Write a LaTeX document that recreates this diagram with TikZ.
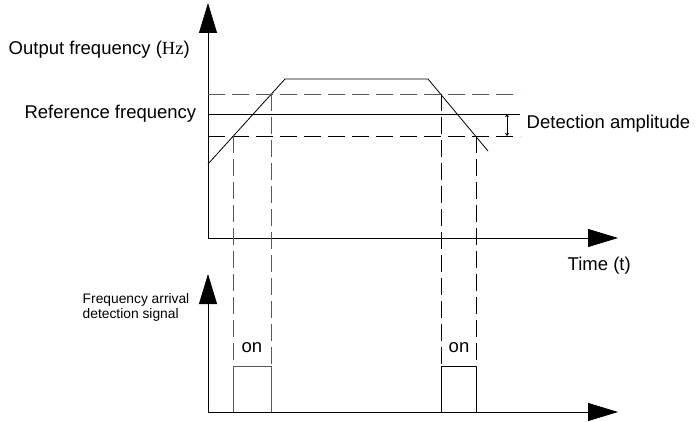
\documentclass[tikz,border=0pt]{standalone}
\usepackage{fontspec}
\setmainfont{Liberation Sans}
\newfontfamily\hzfont{Liberation Serif}
\usetikzlibrary{arrows.meta}
\begin{document}
\begin{tikzpicture}[x=1pt,y=-1pt,line width=0.8pt,line join=round,>={Triangle[length=30pt,width=18pt]},font=\fontsize{18.5}{21}\selectfont]
	\useasboundingbox (0,0) rectangle (696,422);
	% upper graph
	\draw [->] (208,238) -- (208,3);
	\draw [->] (208,238) -- (618,238);
	\node [anchor=west] (fout) at (5,50) {Output frequency ({\hzfont Hz})};
	\node [anchor=east] (fref) at (200,114) {Reference frequency};
	\draw (208,164) -- (285,79) -- (428,79) -- (488,151);
	\draw [gray!70!black,dash pattern=on 17pt off 7pt] (208,94) -- (520,94);
	\draw (208,114) -- (520,114);
	\draw [dash pattern=on 17pt off 7pt] (208,136) -- (520,136);
	\draw [{Stealth[length=3pt,width=4pt]}-{Stealth[length=3pt,width=4pt]},line width=0.6pt] (507,114) -- (507,136);
	\node [anchor=west] (famp) at (523,124) {Detection amplitude};
	\node [anchor=west] (time) at (564,266) {Time (t)};
	% detection signal
	\draw [->] (208,412) -- (208,274);
	\draw [->] (208,412) -- (618,412);
	\node [anchor=north west,align=left,font=\fontsize{13.8}{14.5}\selectfont] (fdet) at (79,290) {Frequency arrival\\detection signal};
	\draw [gray!70!black,dash pattern=on 17pt off 6pt] (233,136) -- (233,366) (271,94) -- (271,366);
	\draw [dash pattern=on 17pt off 6pt] (441,94) -- (441,366) (476,136) -- (476,366);
	\draw [gray!70!black] (233,412) -- (233,366) -- (271,366) -- (271,412);
	\draw (441,412) -- (441,366) -- (476,366) -- (476,412);
	\node (on1) at (252,348) {on};
	\node (on2) at (459,348) {on};
\end{tikzpicture}
\end{document}
